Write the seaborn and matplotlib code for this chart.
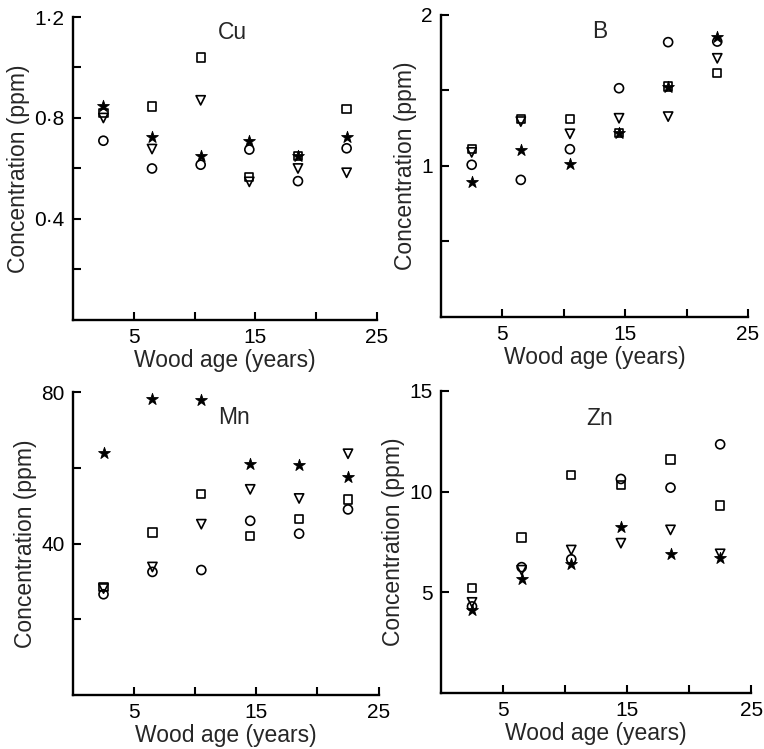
import matplotlib
matplotlib.use("Agg")
import matplotlib.pyplot as plt
import seaborn as sns

# wood age classes (years)
ages = [2.5, 6.5, 10.5, 14.5, 18.5, 22.5]

# Cu (ppm)
cu_circle = [0.71, 0.60, 0.615, 0.675, 0.55, 0.68]
cu_square = [0.82, 0.845, 1.04, 0.565, 0.65, 0.835]
cu_triangle = [0.80, 0.677, 0.87, 0.547, 0.60, 0.583]
cu_star = [0.847, 0.726, 0.65, 0.71, 0.65, 0.726]

# B (ppm)
b_circle = [1.008, 0.908, 1.111, 1.515, 1.82, 1.824]
b_square = [1.113, 1.312, 1.312, 1.217, 1.526, 1.614]
b_triangle = [1.09, 1.294, 1.213, 1.316, 1.327, 1.713]
b_star = [0.897, 1.107, 1.014, 1.217, 1.526, 1.857]

# Mn (ppm)
mn_circle = [26.6, 32.5, 33.0, 46.0, 42.6, 49.0]
mn_square = [28.6, 42.9, 53.0, 42.0, 46.5, 51.6]
mn_triangle = [28.1, 33.8, 45.1, 54.3, 51.9, 63.7]
mn_star = [63.9, 78.2, 78.0, 61.1, 60.7, 57.6]

# Zn (ppm)
zn_circle = [4.3, 6.25, 6.64, 10.63, 10.2, 12.35]
zn_square = [5.21, 7.72, 10.83, 10.33, 11.6, 9.31]
zn_triangle = [4.5, 6.1, 7.1, 7.44, 8.1, 6.91]
zn_star = [4.1, 5.65, 6.41, 8.26, 6.91, 6.7]

sns.set_style("ticks")
plt.rcParams["font.family"] = ["Liberation Sans", "DejaVu Sans"]


def draw_panel(ax, title, circle, square, triangle, star, ymax, yticks, ylabels, title_xy):
    sns.scatterplot(x=ages, y=circle, marker="o", s=42, facecolor="none",
                    edgecolor="black", linewidth=1.2, ax=ax)
    sns.scatterplot(x=ages, y=square, marker="s", s=36, facecolor="none",
                    edgecolor="black", linewidth=1.2, ax=ax)
    sns.scatterplot(x=ages, y=triangle, marker="v", s=44, facecolor="none",
                    edgecolor="black", linewidth=1.2, ax=ax)
    sns.scatterplot(x=ages, y=star, marker="*", s=80, color="black",
                    edgecolor="black", linewidth=0.6, ax=ax)

    ax.set_xlim(0, 25)
    ax.set_ylim(0, ymax)
    ax.set_xticks([5, 10, 15, 20, 25])
    ax.set_xticklabels(["5", "", "15", "", "25"])
    ax.set_yticks(yticks)
    ax.set_yticklabels(ylabels)
    ax.tick_params(direction="in", length=6, width=1.5, labelsize=15,
                   colors="black", pad=6)
    sns.despine(ax=ax)
    for side in ["left", "bottom"]:
        ax.spines[side].set_linewidth(1.7)
        ax.spines[side].set_color("black")
    ax.set_xlabel("Wood age (years)", fontsize=16.5, labelpad=1)
    ax.set_ylabel("Concentration (ppm)", fontsize=16.5, labelpad=3)
    ax.text(title_xy[0], title_xy[1], title, transform=ax.transAxes,
            ha="center", va="center", fontsize=16.5)


fig = plt.figure(figsize=(7.64, 7.49), dpi=100)
ax_cu = fig.add_axes([0.0955, 0.5728, 0.398, 0.4045])
ax_b = fig.add_axes([0.5772, 0.5768, 0.4018, 0.4032])
ax_mn = fig.add_axes([0.0955, 0.0721, 0.400, 0.4045])
ax_zn = fig.add_axes([0.5772, 0.0748, 0.4060, 0.4032])

draw_panel(ax_cu, "Cu", cu_circle, cu_square, cu_triangle, cu_star, 1.2,
           [0.2, 0.4, 0.6, 0.8, 1.0, 1.2], ["", "0\u00b74", "", "0\u00b78", "", "1\u00b72"],
           (0.523, 0.95))
draw_panel(ax_b, "B", b_circle, b_square, b_triangle, b_star, 2.0,
           [0.5, 1.0, 1.5, 2.0], ["", "1", "", "2"], (0.518, 0.944))
draw_panel(ax_mn, "Mn", mn_circle, mn_square, mn_triangle, mn_star, 80,
           [20, 40, 60, 80], ["", "40", "", "80"], (0.526, 0.917))
draw_panel(ax_zn, "Zn", zn_circle, zn_square, zn_triangle, zn_star, 15,
           [5, 10, 15], ["5", "10", "15"], (0.511, 0.91))

fig.savefig("out.png", dpi=100)
